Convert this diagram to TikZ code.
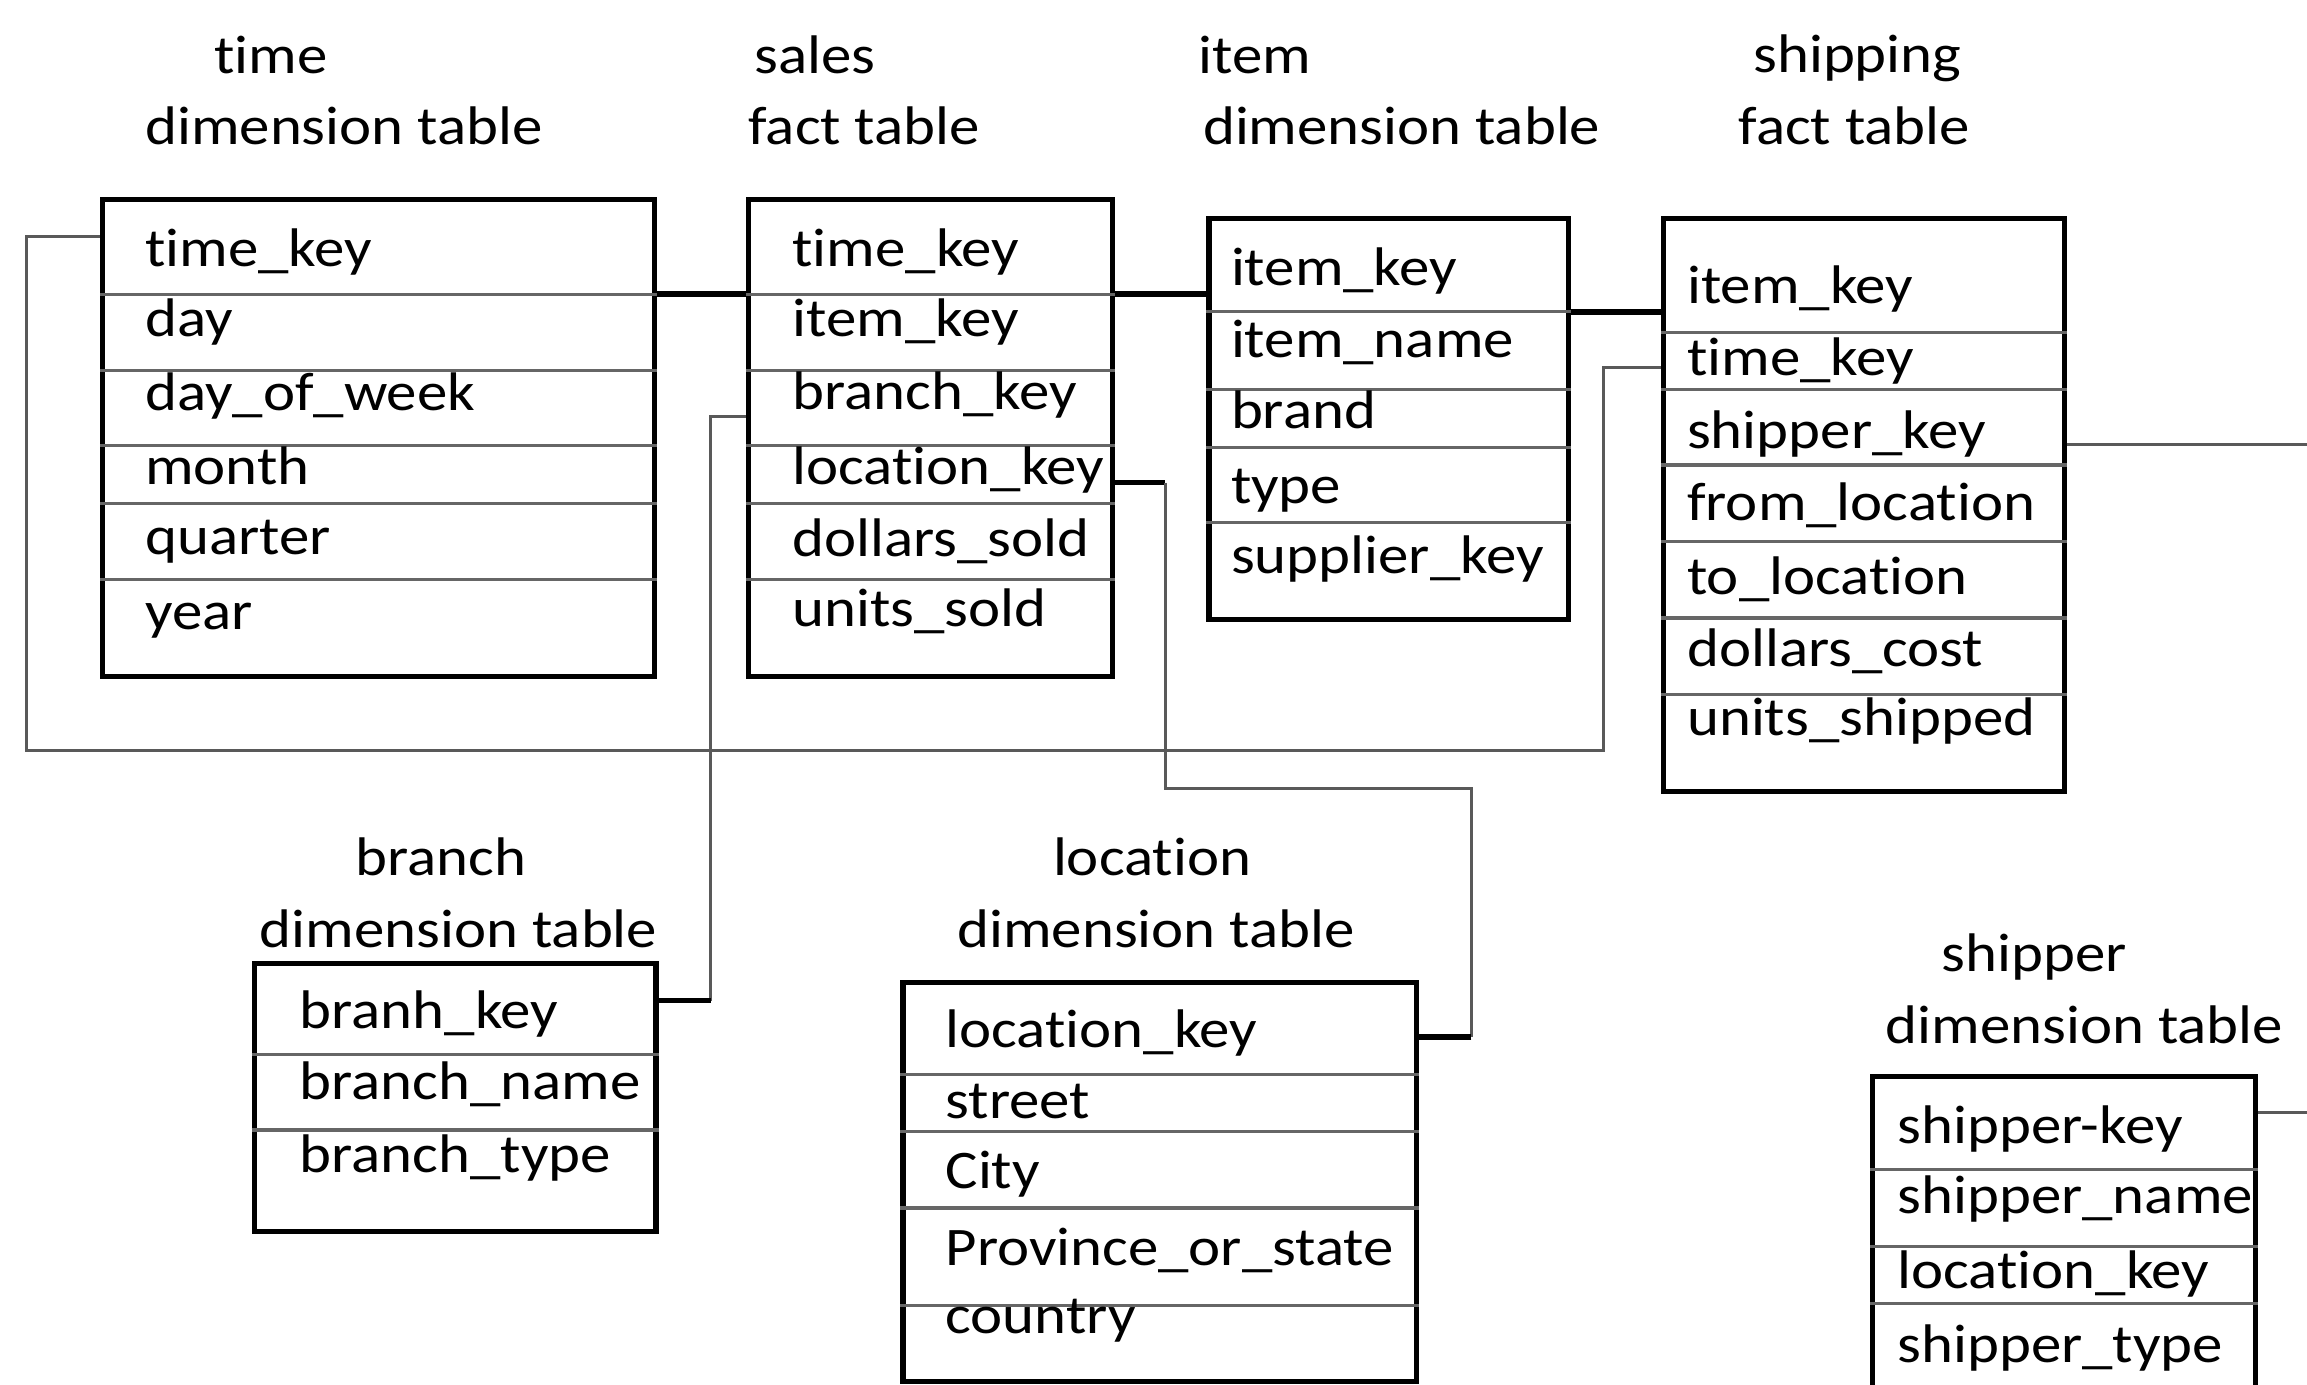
\documentclass[tikz,border=0pt]{standalone}
\usepackage{fontspec}
\setmainfont{Carlito}[FakeStretch=1.12, Ligatures=NoCommon]
\usepackage{tikz}
\tikzstyle{tbl}=[draw, line width=1pt, anchor=north west, inner sep=0]
\tikzstyle{field}=[anchor=base west, inner sep=0, font=\fontsize{10.5}{12}\selectfont]
\tikzstyle{caption}=[anchor=base west, inner sep=0, font=\fontsize{10.5}{12}\selectfont]
\tikzstyle{sep}=[draw=black!60, line width=0.6pt]
\tikzstyle{link}=[draw=black!65, line width=0.6pt]
\tikzstyle{hub}=[draw=black, line width=1.1pt]

\begin{document}
\begin{tikzpicture}[x=0.01cm, y=-0.01cm]
\useasboundingbox (0,0) rectangle (1568,941);
\clip (0,0) rectangle (1568,941);
% titles
\node[caption] (time-name) at (145,50) {time};
\node[caption] (time-kind) at (98,98) {dimension table};
\node[caption] (sales-name) at (512,50) {sales};
\node[caption] (sales-kind) at (508,98) {fact table};
\node[caption] (item-name) at (814,50) {item};
\node[caption] (item-kind) at (817,98) {dimension table};
\node[caption] (ship-name) at (1191,49) {shipping};
\node[caption] (ship-kind) at (1181,98) {fact table};
\node[caption] (branch-name) at (241,595) {branch};
\node[caption] (branch-kind) at (176,644) {dimension table};
\node[caption] (loc-name) at (715,595) {location};
\node[caption] (loc-kind) at (650,644) {dimension table};
\node[caption] (shipper-name) at (1319,660) {shipper};
\node[caption] (shipper-kind) at (1281,709) {dimension table};
% tables
\node[tbl, minimum width=3.75cm, minimum height=3.24cm] (time) at (68,134) {};
\node[tbl, minimum width=2.47cm, minimum height=3.24cm] (sales) at (507,134) {};
\node[tbl, minimum width=2.44cm, minimum height=2.72cm] (item) at (820,147) {};
\node[tbl, minimum width=2.72cm, minimum height=3.89cm] (ship) at (1129,147) {};
\node[tbl, minimum width=2.73cm, minimum height=1.82cm] (branch) at (171,653) {};
\node[tbl, minimum width=3.49cm, minimum height=2.71cm] (loc) at (612,666) {};
\node[tbl, minimum width=2.60cm, minimum height=2.50cm] (shipper) at (1271,730) {};
% row lines
\foreach \y in {200,252,303,342,394} {
  \draw[sep] (time.west |- 0,\y) -- (time.east |- 0,\y);
  \draw[sep] (sales.west |- 0,\y) -- (sales.east |- 0,\y);
}
\foreach \y in {212,265,304,355} \draw[sep] (item.west |- 0,\y) -- (item.east |- 0,\y);
\foreach \y in {226,265,316,368,420,472} \draw[sep] (ship.west |- 0,\y) -- (ship.east |- 0,\y);
\foreach \y in {717,768} \draw[sep] (branch.west |- 0,\y) -- (branch.east |- 0,\y);
\foreach \y in {730,769,821,887} \draw[sep] (loc.west |- 0,\y) -- (loc.east |- 0,\y);
\foreach \y in {795,847,886} \draw[sep] (shipper.west |- 0,\y) -- (shipper.east |- 0,\y);
% fields
\foreach \f/\y [count=\i] in {time\_key/181, day/229, day\_of\_week/279, month/329, quarter/377, year/428}
  \node[field] (time-f\i) at (98,\y) {\f};
\foreach \f/\y [count=\i] in {time\_key/181, item\_key/229, branch\_key/278, location\_key/329, dollars\_sold/378, units\_sold/426}
  \node[field] (sales-f\i) at (538,\y) {\f};
\foreach \f/\y [count=\i] in {item\_key/194, item\_name/243, brand/291, type/342, supplier\_key/390}
  \node[field] (item-f\i) at (836,\y) {\f};
\foreach \f/\y [count=\i] in {item\_key/206, time\_key/255, shipper\_key/305, from\_location/354, to\_location/404, dollars\_cost/453, units\_shipped/500}
  \node[field] (ship-f\i) at (1146,\y) {\f};
\foreach \f/\y [count=\i] in {branh\_key/699, branch\_name/747, branch\_type/797}
  \node[field] (branch-f\i) at (203,\y) {\f};
\foreach \f/\y [count=\i] in {location\_key/712, street/760, City/808, Province\_or\_state/860, country/906}
  \node[field] (loc-f\i) at (642,\y) {\f};
\foreach \f/\y [count=\i] in {shipper-key/777, shipper\_name/825, location\_key/876, shipper\_type/926}
  \node[field] (shipper-f\i) at (1289,\y) {\f};
% keys
\coordinate (j1) at (0,200);
\coordinate (j2) at (0,212);
\coordinate (tkA) at (18,161);
\coordinate (tkB) at (1090,510);
\coordinate (tkC) at (0,250);
\coordinate (brA) at (483,283);
\coordinate (brB) at (0,680);
\coordinate (lcA) at (792,328);
\coordinate (lcB) at (1000,536);
\coordinate (lcC) at (0,705);
\coordinate (sk) at (1568,302);
\coordinate (sp) at (1568,756);
\draw[hub] (time.east |- j1) -- (sales.west |- j1);
\draw[hub] (sales.east |- j1) -- (item.west |- j1);
\draw[hub] (item.east |- j2) -- (ship.west |- j2);
\draw[link] (time.west |- tkA) -- (tkA) |- (tkB) |- (ship.west |- tkC);
\draw[link] (sales.west |- brA) -- (brA) -- (brA |- brB);
\draw[hub] (brA |- brB) -- (branch.east |- brB);
\draw[hub] (sales.east |- lcA) -- (lcA);
\draw[link] (lcA) |- (lcB) -- (lcB |- lcC);
\draw[hub] (lcB |- lcC) -- (loc.east |- lcC);
\draw[link] (ship.east |- sk) -- (sk);
\draw[link] (shipper.east |- sp) -- (sp);
\end{tikzpicture}
\end{document}
